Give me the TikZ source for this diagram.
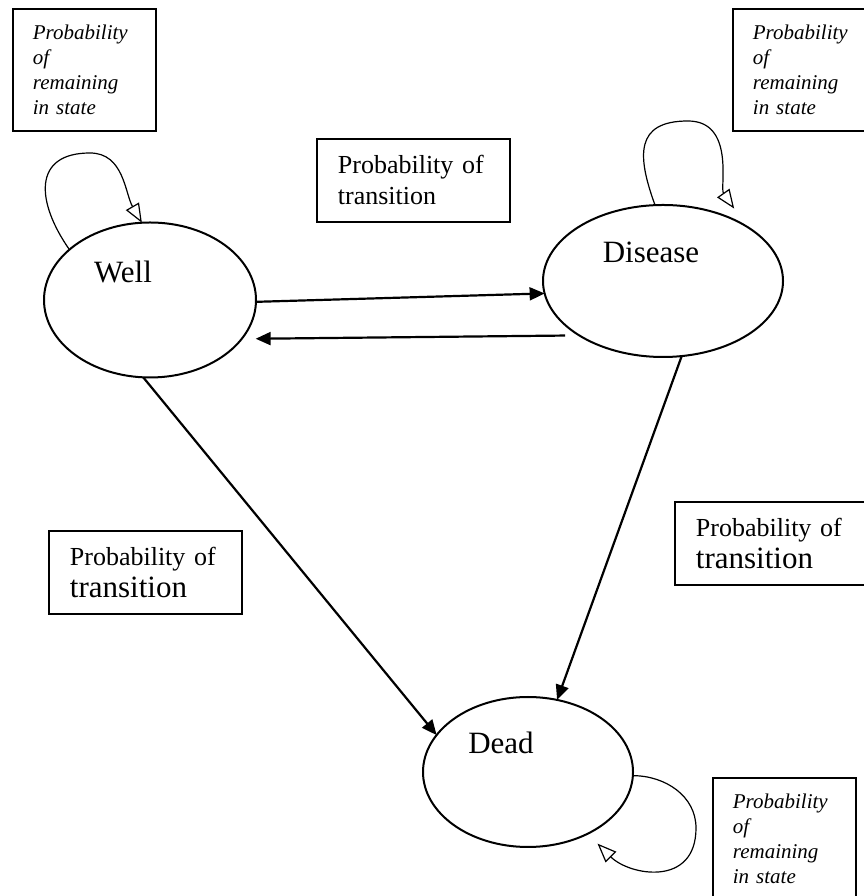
\documentclass[tikz,border=0pt]{standalone}
\usepackage{fontspec}
\setmainfont{Liberation Serif}
\usetikzlibrary{shapes.geometric,arrows.meta}

\begin{document}
\begin{tikzpicture}[x=1pt,y=1pt,
  state/.style={ellipse, draw=black, line width=2pt, inner sep=0pt, outer sep=0pt},
  statename/.style={anchor=base, font=\fontsize{31}{36}\selectfont},
  remainbox/.style={draw=black, line width=1.8pt, anchor=north west, inner xsep=20pt, inner ysep=0pt,
    text width=103pt, minimum height=122pt, align=left, font=\fontsize{21}{25}\selectfont\itshape},
  transbox/.style={draw=black, line width=1.8pt, anchor=north west, inner xsep=21pt, inner ysep=0pt,
    text width=151pt, minimum height=83pt, align=left, font=\fontsize{26}{32}\selectfont},
  transarrow/.style={-{Triangle[length=15pt,width=13pt]}, line width=2.2pt},
  stayarrow/.style={-{Triangle[open,length=19pt,width=15pt,fill=white]}, line width=1.2pt}]
  \useasboundingbox (0,0) rectangle (863,896);
  % states
  \node[state, minimum width=212pt, minimum height=155pt] (well) at (150,596) {};
  \node[state, minimum width=240pt, minimum height=152pt] (disease) at (663,615) {};
  \node[state, minimum width=210pt, minimum height=150pt] (dead) at (528,124) {};
  \node[statename] (well name) at ([shift={(-27,17)}]well.center) {Well};
  \node[statename] (disease name) at ([shift={(-12,18)}]disease.center) {Disease};
  \node[statename] (dead name) at ([shift={(-27,18)}]dead.center) {Dead};
  % boxes
  \node[remainbox] (well stay) at (12,888) {Probability\\of\\remaining\\in state};
  \node[remainbox] (disease stay) at (732,888) {Probability\\of\\remaining\\in state};
  \node[remainbox] (dead stay) at (712,119) {Probability\\of\\remaining\\in state};
  \node[transbox, font=\fontsize{26}{31}\selectfont] (well disease) at (316,758) {Probability of\\transition};
  \node[transbox] (well dead) at (48,366) {Probability of\\{\fontsize{31}{32}\selectfont transition}};
  \node[transbox] (disease dead) at (674,395) {Probability of\\{\fontsize{31}{32}\selectfont transition}};
  % loops
  \draw[stayarrow] (well.148) to[out=125,in=180,looseness=1.5] (90,743) to[out=0,in=120] (well.96);
  \draw[stayarrow, shorten >=22pt] (disease.96) to[out=110,in=180,looseness=1.5] (688,775) to[out=0,in=125] (disease.33);
  \draw[stayarrow, shorten >=14pt] (dead.-2) to[out=0,in=90] (696,68) to[out=-90,in=-45,looseness=1.4] (dead.-46);
  % transitions
  \draw[transarrow] (well.-1) -- (disease.186);
  \draw[transarrow, shorten <=14pt, shorten >=14pt] (disease.213) -- (well.-23);
  \draw[transarrow] (well.265) -- (dead.158);
  \draw[transarrow] (disease.284) -- (dead.68);
\end{tikzpicture}
\end{document}
